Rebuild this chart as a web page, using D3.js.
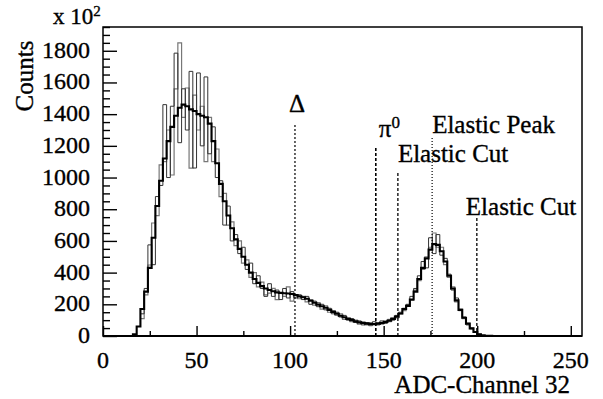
<!DOCTYPE html>
<html>
<head>
<meta charset="utf-8">
<script src="https://cdn.jsdelivr.net/npm/d3@7"></script>
<style>
  body { margin: 0; background: #fff; }
</style>
</head>
<body>
<div id="chart"></div>
<script>
// histogram bins: width 2 channels
const binWidth = 2;

const fitStart = 14;
const fitCounts = [
  0, 10, 60, 170, 280, 430, 620, 820, 980, 1120,
  1230, 1320, 1390, 1440, 1460, 1450, 1430, 1420, 1400, 1390,
  1380, 1340, 1230, 1090, 960, 850, 760, 680, 610, 550,
  500, 450, 400, 360, 335, 315, 300, 290, 282, 275,
  272, 270, 268, 265, 258, 250, 245, 235, 222, 210,
  198, 188, 178, 165, 152, 140, 128, 118, 108, 100,
  92, 86, 82, 78, 76, 76, 78, 82, 88, 96,
  108, 122, 142, 170, 190, 230, 280, 360, 430, 490,
  545, 580, 575, 535, 470, 380, 300, 225, 165, 115,
  78, 48, 25, 10, 5, 2, 1, 0
];

const runStart = 20;
const runA = [
  140, 300, 575, 450, 880, 950, 1460, 1000, 1450, 1785,
  1220, 1560, 1300, 1670, 1060, 1660, 1200, 1635, 1150, 1320,
  1000, 980, 700, 820, 600, 640, 520, 560, 420, 460,
  330, 380, 300, 250, 330, 250, 290, 230, 300, 240,
  280, 240, 260, 230, 250, 200, 220, 185, 200, 165,
  175, 140, 150, 120, 130, 100, 110, 85, 95, 70,
  85, 65, 90, 70, 95, 80, 105, 100, 130, 150,
  175, 200, 250, 300, 380, 470, 430, 620, 520, 640,
  510, 490, 390, 290, 240, 160, 120, 70, 45, 22,
  10
];
const runB = [
  110, 260, 448, 713, 760, 1080, 1100, 1300, 1016, 1560,
  1850, 1380, 1565, 1060, 1520, 1300, 1450, 1100, 1380, 1100,
  1180, 880, 900, 700, 720, 570, 600, 460, 480, 370,
  400, 310, 340, 260, 270, 300, 230, 270, 250, 310,
  220, 260, 235, 250, 215, 230, 195, 210, 170, 190,
  150, 160, 130, 140, 105, 115, 90, 100, 75, 90,
  70, 85, 70, 85, 75, 95, 90, 115, 115, 140,
  160, 195, 225, 290, 350, 420, 500, 560, 650, 560,
  560, 450, 370, 310, 215, 170, 110, 80, 50, 28,
  12
];

const xTicks = [0, 50, 100, 150, 200, 250];
const yTicks = [0, 200, 400, 600, 800, 1000, 1200, 1400, 1600, 1800];

const markLabels = ["Δ", "π", "Elastic Cut", "Elastic Peak", "Elastic Cut"];
const markChannels = [102.6, 145.8, 157.6, 175.9, 199.8];
const markTops = [1331, 1186, 1028, 1249, 744];

const width = 603, height = 399;
const plot = { left: 103, right: 582, top: 27, bottom: 336 };

const svg = d3.select("#chart").append("svg")
  .attr("width", width)
  .attr("height", height)
  .attr("font-family", "'Liberation Serif', 'Times New Roman', Times, serif");

const x = d3.scaleLinear().domain([0, 256]).range([plot.left, plot.right]);
const y = d3.scaleLinear().domain([0, 1950]).range([plot.bottom, plot.top]);

function steps(start, counts) {
  const pts = counts.map((v, i) => [start + i * binWidth, v]);
  pts.push([start + counts.length * binWidth, counts[counts.length - 1]]);
  return pts;
}

// slightly heavier glyphs, like the scanned print
function ink(sel) {
  return sel.attr("stroke", "#000").attr("stroke-width", 0.35);
}

const stepLine = d3.line()
  .x(d => x(d[0]))
  .y(d => y(d[1]))
  .curve(d3.curveStepAfter);

svg.append("path")
  .attr("d", stepLine(steps(runStart, runB)))
  .attr("fill", "none")
  .attr("stroke", "#777")
  .attr("stroke-width", 1.2);

svg.append("path")
  .attr("d", stepLine(steps(runStart, runA)))
  .attr("fill", "none")
  .attr("stroke", "#333")
  .attr("stroke-width", 1);

svg.append("path")
  .attr("d", stepLine(steps(fitStart, fitCounts)))
  .attr("fill", "none")
  .attr("stroke", "#000")
  .attr("stroke-width", 2.1);

// marker lines
const markStyle = [
  { dash: "2,2", w: 1.2, dx: 2, anchor: "middle", up: 13 },
  { dash: "3,2", w: 1.6, dx: 3, anchor: "start", up: 11 },
  { dash: "3,2", w: 1.3, dx: 0, anchor: "start", up: 11 },
  { dash: "1,2", w: 1.2, dx: 0, anchor: "start", up: 5 },
  { dash: "3,2", w: 1.3, dx: -11, anchor: "start", up: 3 }
];

markChannels.forEach((ch, i) => {
  const st = markStyle[i];
  svg.append("line")
    .attr("x1", x(ch)).attr("x2", x(ch))
    .attr("y1", y(markTops[i])).attr("y2", y(0))
    .attr("stroke", "#000")
    .attr("stroke-width", st.w)
    .attr("stroke-dasharray", st.dash);
  const t = ink(svg.append("text"))
    .attr("x", x(ch) + st.dx)
    .attr("y", y(markTops[i]) - st.up)
    .attr("text-anchor", st.anchor)
    .attr("font-size", 25)
    .text(markLabels[i]);
  if (markLabels[i] === "π") {
    t.append("tspan")
      .attr("dy", -9)
      .attr("font-size", 17)
      .text("0");
  }
});

// frame
svg.append("rect")
  .attr("x", plot.left).attr("y", plot.top)
  .attr("width", plot.right - plot.left)
  .attr("height", plot.bottom - plot.top)
  .attr("fill", "none")
  .attr("stroke", "#000")
  .attr("stroke-width", 1.5);

svg.append("line")
  .attr("x1", plot.left).attr("x2", plot.right)
  .attr("y1", plot.bottom).attr("y2", plot.bottom)
  .attr("stroke", "#000")
  .attr("stroke-width", 2);

// y axis, ticks pointing inward
const yAxis = svg.append("g")
  .attr("transform", `translate(${plot.left},0)`)
  .call(d3.axisRight(y).tickValues(d3.range(0, 1951, 50)).tickSize(7).tickFormat(""));
yAxis.select(".domain").remove();
yAxis.selectAll(".tick line")
  .attr("x2", d => d % 200 === 0 ? 14 : 7)
  .attr("stroke-width", 1.4);

ink(svg.selectAll(".ylab")
  .data(yTicks)
  .join("text"))
  .attr("class", "ylab")
  .attr("x", 90)
  .attr("y", d => y(d) + 7)
  .attr("text-anchor", "end")
  .attr("font-size", 24)
  .text(d => d);

// x axis, ticks pointing inward
const xAxis = svg.append("g")
  .attr("transform", `translate(0,${plot.bottom})`)
  .call(d3.axisTop(x).tickValues(d3.range(0, 256, 25)).tickSize(5).tickFormat(""));
xAxis.select(".domain").remove();
xAxis.selectAll(".tick line")
  .attr("y2", d => d % 50 === 0 ? -10 : -5)
  .attr("stroke-width", 1.4);

ink(svg.selectAll(".xlab")
  .data(xTicks)
  .join("text"))
  .attr("class", "xlab")
  .attr("x", d => x(d))
  .attr("y", 368)
  .attr("text-anchor", "middle")
  .attr("font-size", 24)
  .text(d => d);

ink(svg.append("text"))
  .attr("x", 570)
  .attr("y", 393)
  .attr("text-anchor", "end")
  .attr("font-size", 25)
  .text("ADC-Channel 32");

ink(svg.append("text"))
  .attr("transform", "translate(33,76) rotate(-90)")
  .attr("text-anchor", "middle")
  .attr("font-size", 25)
  .text("Counts");

const scaleLabel = ink(svg.append("text"))
  .attr("x", 53)
  .attr("y", 24)
  .attr("font-size", 23)
  .text("x 10");
scaleLabel.append("tspan")
  .attr("dy", -8)
  .attr("font-size", 15)
  .text("2");
</script>
</body>
</html>
